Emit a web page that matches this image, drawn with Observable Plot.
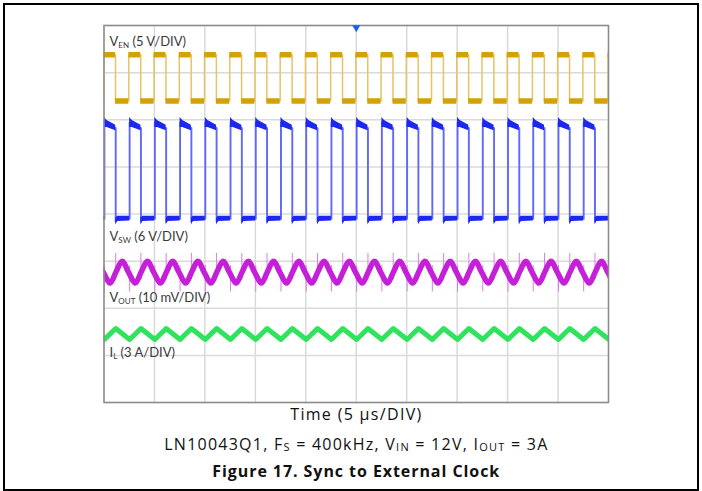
<!DOCTYPE html>
<html><head><meta charset="utf-8">
<script src="https://cdn.jsdelivr.net/npm/d3@7"></script>
<script src="https://cdn.jsdelivr.net/npm/@observablehq/plot@0.6"></script>
<style>
body{margin:0;background:#fff;}
#wrap{position:relative;width:702px;height:491px;overflow:hidden;}
#border{position:absolute;left:3px;top:3px;width:692px;height:484px;border:2px solid #000;pointer-events:none;}
svg{position:absolute;left:0;top:0;}
</style></head><body><div id="wrap"><div id="border"></div></div>
<script>
// switching cycle starts (µs) (period 2.5 µs, 400 kHz)
const cycleStarts = [-2.5, 0, 2.5, 5, 7.5, 10, 12.5, 15, 17.5, 20, 22.5, 25, 27.5, 30, 32.5, 35, 37.5, 40, 42.5, 45, 47.5, 50];
const timeTicks = [0, 5, 10, 15, 20, 25, 30, 35, 40, 45, 50];
const divTicks = [0, 1, 2, 3, 4, 5, 6, 7, 8];

// V_EN (5 V/DIV)
const venZeroDiv = 6.40, venPerDiv = 5;
const venEdgeT = [-0.04, 1.14];      // rise, fall within a cycle (µs)
const venLevels = [0, 4.9];          // low, high (V)

// V_SW (6 V/DIV): high band (lower / upper edge of noisy trace) and low band
const swZeroDiv = 3.90, swPerDiv = 6;
const swHighT = [0.04, 0.3, 1.16];
const swHighLo = [11.6, 11.6, 11.2];
const swHighHi = [12.9, 12.5, 11.9];
const swLowT = [1.16, 1.35, 2.54];
const swLowLo = [-0.8, -0.35, -0.3];
const swLowHi = [0.1, 0.3, 0.3];

// V_OUT (10 mV/DIV, AC)
const voutZeroDiv = 2.765, voutPerDiv = 10;
const voutT = [0.6, 1.2, 1.8, 2.45];
const voutV = [-2.3, 0.1, 2.3, -0.1];
const voutSpikeT = [0.04, 1.16];
const voutSpikeLo = [-4.2, -1.6];
const voutSpikeHi = [1.4, 4.0];

// I_L (3 A/DIV)
const ilZeroDiv = 0.454, ilPerDiv = 3;
const ilT = [0.04, 1.16];
const ilV = [2.65, 3.35];

// labels
const labelMain = ["V", "V", "V", "I"];
const labelSub = ["EN", "SW", "OUT", "L"];
const labelRest = [" (5 V/DIV)", " (6 V/DIV)", " (10 mV/DIV)", " (3 A/DIV)"];
const labelDiv = [7.56, 3.42, 2.13, 0.96];
const labelT = 0.6;
const xTitle = "Time (5 µs/DIV)";
const captionParts = [["LN10043Q1, F"], ["S", 1], [" = 400kHz, V"], ["IN", 1], [" = 12V, I"], ["OUT", 1], [" = 3A"]];
const figTitle = "Figure 17. Sync to External Clock";

// ---- build tables ----
const venTrace = [], venHigh = [], venLow = [];
cycleStarts.forEach((c) => {
  const r = c + venEdgeT[0], f = c + venEdgeT[1], rn = c + 2.5 + venEdgeT[0];
  const lo = venZeroDiv + venLevels[0] / venPerDiv, hi = venZeroDiv + venLevels[1] / venPerDiv;
  venTrace.push({t: r, y: lo}, {t: r, y: hi}, {t: f, y: hi}, {t: f, y: lo});
  venHigh.push({t1: r, t2: f, y: hi});
  venLow.push({t1: f, t2: rn, y: lo});
});
const swTrace = [], swHigh = [], swLow = [];
cycleStarts.forEach((c, k) => {
  swTrace.push({t: c + swHighT[0], y: swZeroDiv});
  swHighT.forEach((dt, i) => {
    const p = {t: c + dt, y1: swZeroDiv + swHighLo[i] / swPerDiv, y2: swZeroDiv + swHighHi[i] / swPerDiv, k};
    swHigh.push(p); swTrace.push({t: p.t, y: (p.y1 + p.y2) / 2});
  });
  swLowT.forEach((dt, i) => {
    const p = {t: c + dt, y1: swZeroDiv + swLowLo[i] / swPerDiv, y2: swZeroDiv + swLowHi[i] / swPerDiv, k};
    swLow.push(p); swTrace.push({t: p.t, y: (p.y1 + p.y2) / 2});
  });
});
const vout = [], voutSpikes = [];
cycleStarts.forEach(c => {
  voutT.forEach((dt, i) => vout.push({t: c + dt, y: voutZeroDiv + voutV[i] / voutPerDiv}));
  voutSpikeT.forEach((dt, i) => voutSpikes.push({t: c + dt, y1: voutZeroDiv + voutSpikeLo[i] / voutPerDiv, y2: voutZeroDiv + voutSpikeHi[i] / voutPerDiv}));
});
const il = [];
cycleStarts.forEach(c => ilT.forEach((dt, i) => il.push({t: c + dt, y: ilZeroDiv + ilV[i] / ilPerDiv})));

const yellow = "#d4a106", yellowEdge = "#e6c464";
const blue = "#1c28f0", blueEdge = "#6068fa";
const purple = "#c420d8", purpleSpike = "#e07af0";
const green = "#30e35c";

const plot = Plot.plot({
  width: 702, height: 491,
  marginLeft: 103.5, marginRight: 94, marginTop: 25, marginBottom: 89,
  x: {domain: [0, 50], axis: null},
  y: {domain: [0, 8], axis: null},
  style: {background: "transparent", overflow: "visible"},
  marks: [
    Plot.ruleX(timeTicks, {x: d => d, stroke: "#dadada", strokeWidth: 1.5}),
    Plot.ruleY(divTicks, {y: d => d, stroke: "#dadada", strokeWidth: 1.5}),
    // V_EN
    Plot.line(venTrace, {x: "t", y: "y", stroke: yellowEdge, strokeWidth: 1.5, clip: true}),
    Plot.ruleY(venHigh, {x1: "t1", x2: "t2", y: "y", stroke: yellow, strokeWidth: 5.5, clip: true}),
    Plot.ruleY(venLow, {x1: "t1", x2: "t2", y: "y", stroke: yellow, strokeWidth: 5.5, clip: true}),
    // V_SW
    Plot.line(swTrace, {x: "t", y: "y", stroke: blueEdge, strokeWidth: 1.9, clip: true}),
    Plot.areaY(swHigh, {x: "t", y1: "y1", y2: "y2", z: "k", fill: blue, clip: true}),
    Plot.areaY(swLow, {x: "t", y1: "y1", y2: "y2", z: "k", fill: blue, clip: true}),
    // V_OUT
    Plot.ruleX(voutSpikes, {x: "t", y1: "y1", y2: "y2", stroke: purpleSpike, strokeWidth: 1, clip: true}),
    Plot.line(vout, {x: "t", y: "y", stroke: purple, strokeWidth: 5.5, curve: "catmull-rom", clip: true}),
    // I_L
    Plot.line(il, {x: "t", y: "y", stroke: green, strokeWidth: 5, clip: true}),
    Plot.frame({stroke: "#8c8c8c", strokeWidth: 1.5}),
    Plot.dot([{t: 25, y: 8}], {x: "t", y: "y", symbol: "triangle", rotate: 180, r: 3, fill: "#1e5bff", dy: 2})
  ]
});
document.getElementById("wrap").prepend(plot);

const sx = plot.scale("x"), sy = plot.scale("y");
const svg = d3.select(plot);
const font = "Lato, 'Open Sans', sans-serif";
labelMain.forEach((m, i) => {
  const t = svg.append("text").attr("x", sx.apply(labelT)).attr("y", sy.apply(labelDiv[i]))
    .attr("text-anchor", "start")
    .attr("font-family", font).attr("font-size", 13).attr("fill", "#3a3a3a");
  t.append("tspan").text(m);
  t.append("tspan").attr("font-size", 8).attr("dy", 2).text(labelSub[i]);
  t.append("tspan").attr("dy", -2).text(labelRest[i]);
});
const cx = sx.apply(25);
const capFont = "'Open Sans', Lato, sans-serif";
svg.append("text").attr("x", cx).attr("y", 420).attr("text-anchor", "middle")
  .attr("font-family", capFont).attr("font-size", 16).attr("fill", "#111")
  .attr("textLength", 131).attr("lengthAdjust", "spacing").text(xTitle);
const cap = svg.append("text").attr("x", cx).attr("y", 450).attr("text-anchor", "middle")
  .attr("font-family", capFont).attr("font-size", 16).attr("fill", "#111")
  .attr("textLength", 383).attr("lengthAdjust", "spacing");
let shifted = false;
captionParts.forEach(([s, sub]) => {
  const ts = cap.append("tspan").text(s);
  if (sub) { ts.attr("font-size", 11); if (!shifted) { ts.attr("dy", 1); shifted = true; } }
  else if (shifted) { ts.attr("dy", -1); shifted = false; }
});
svg.append("text").attr("x", cx).attr("y", 477).attr("text-anchor", "middle")
  .attr("font-family", capFont).attr("font-size", 16).attr("font-weight", "bold").attr("fill", "#111")
  .attr("textLength", 287).attr("lengthAdjust", "spacing").text(figTitle);
</script></body></html>
